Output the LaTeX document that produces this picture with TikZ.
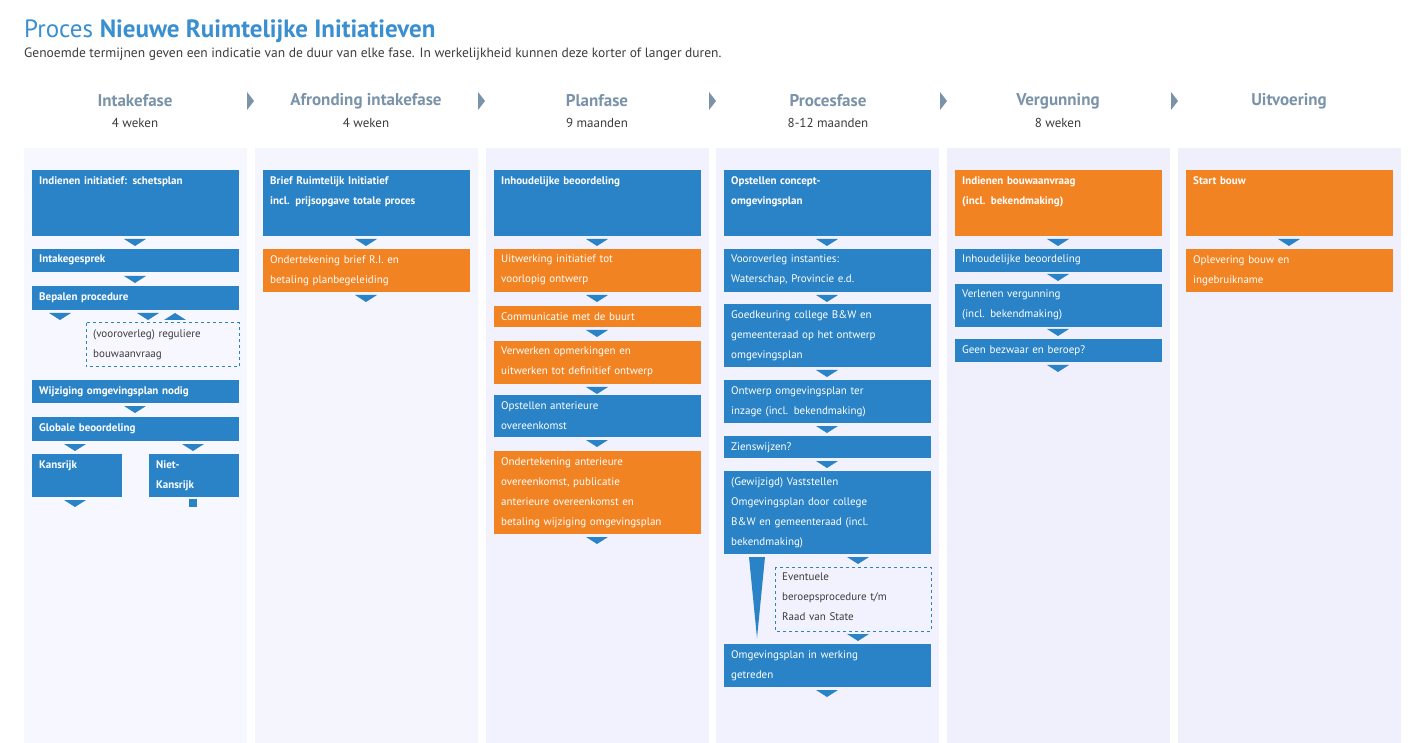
\documentclass[tikz,border=0pt]{standalone}
\usepackage{fontspec}
\setmainfont{PT Sans}
\definecolor{riblue}{HTML}{2A83C6}
\definecolor{riorange}{HTML}{F28322}
\definecolor{rihead}{HTML}{7A93A9}
\definecolor{ritext}{HTML}{3C3C3C}
\definecolor{rititle}{HTML}{3A8FD0}

\tikzset{
  txt/.style={inner xsep=7pt, inner ysep=6pt, text width=193pt, align=left,
    font=\fontsize{11}{20}\selectfont, text=white},
  bold/.style={font=\fontsize{11}{20}\selectfont\bfseries},
  dashbox/.style={draw=riblue, dashed, line width=1pt},
  colhead/.style={font=\fontsize{17}{20}\selectfont\bfseries, text=rihead},
  colsub/.style={font=\fontsize{13}{15}\selectfont, text=ritext}
}
% filled block with text at the top
\newcommand\blok[6]{%
  \fill[#5] (#2,#3) rectangle ++(207,#4);
  \node[txt, anchor=north west, #6] (#1) at (#2,#3) {\strut};}
\newcommand\blokt[7]{%
  \fill[#5] (#2,#3) rectangle ++(#6,#4);
  \node[txt, anchor=north west, text width=#6pt-14pt] (#1) at (#2,#3) {#7};}
% small arrow head pointing down / up
\newcommand\trid[2]{\fill[riblue] (#1-11,#2) -- (#1+11,#2) -- (#1,#2+7) -- cycle;}
\newcommand\triu[2]{\fill[riblue] (#1-11,#2+7) -- (#1+11,#2+7) -- (#1,#2) -- cycle;}

\begin{document}
\begin{tikzpicture}[x=1pt, y=-1pt]
  \useasboundingbox (0,0) rectangle (1425,743);
  \fill[white] (0,0) rectangle (1425,743);

  % title
  \node[anchor=base west, inner sep=0, font=\fontsize{25}{28}\selectfont, text=rititle]
    (title) at (24,38) {Proces \textbf{Nieuwe Ruimtelijke Initiatieven}};
  \node[anchor=base west, inner sep=0, font=\fontsize{13.5}{16}\selectfont, text=ritext]
    (subtitle) at (24,58) {Genoemde termijnen geven een indicatie van de duur van elke fase. In werkelijkheid kunnen deze korter of langer duren.};

  % column backgrounds
  \fill[black!3!blue!3!white] (24,148) rectangle (247,743);
  \fill[black!6!blue!4!white] (255,148) rectangle (478,743);
  \fill[black!8!blue!5!white] (486,148) rectangle (709,743);
  \fill[black!10!blue!5!white] (716,148) rectangle (939,743);
  \fill[black!13!blue!6!white] (947,148) rectangle (1170,743);
  \fill[black!13!blue!6!white] (1178,148) rectangle (1401,743);

  % headers
  \node[colhead] (h1) at (135,101) {Intakefase};
  \node[colsub] (s1) at (135,123) {4 weken};
  \node[colhead] (h2) at (366,101) {Afronding intakefase};
  \node[colsub] (s2) at (366,123) {4 weken};
  \node[colhead] (h3) at (597,101) {Planfase};
  \node[colsub] (s3) at (597,123) {9 maanden};
  \node[colhead] (h4) at (828,101) {Procesfase};
  \node[colsub] (s4) at (828,123) {8-12 maanden};
  \node[colhead] (h5) at (1058,101) {Vergunning};
  \node[colsub] (s5) at (1058,123) {8 weken};
  \node[colhead] (h6) at (1289,101) {Uitvoering};
  \foreach \x in {250,481,712,943,1174}
    \fill[rihead] (\x-3,92) -- (\x+4,101) -- (\x-3,110) -- cycle;

  % Intakefase
  \blokt{a1}{32}{170}{66}{riblue}{207}{\bfseries Indienen initiatief: schetsplan}
  \trid{135}{239}
  \blokt{a2}{32}{249}{23}{riblue}{207}{\bfseries Intakegesprek}
  \trid{135}{276}
  \blokt{a3}{32}{286}{24}{riblue}{207}{\bfseries Bepalen procedure}
  \trid{60}{313}
  \trid{148}{313}
  \triu{175}{313}
  \draw[dashbox] (86,323) rectangle (239,367);
  \node[txt, anchor=north west, text width=139pt, text=ritext] (a4) at (86,323)
    {(vooroverleg) reguliere\\bouwaanvraag};
  \blokt{a5}{32}{380}{23}{riblue}{207}{\bfseries Wijziging omgevingsplan nodig}
  \trid{135}{406}
  \blokt{a6}{32}{417}{24}{riblue}{207}{\bfseries Globale beoordeling}
  \trid{75}{444}
  \trid{193}{444}
  \blokt{a7}{32}{454}{43}{riblue}{90}{\bfseries Kansrijk}
  \blokt{a8}{149}{454}{43}{riblue}{90}{\bfseries Niet-\\Kansrijk}
  \trid{75}{500}
  \fill[riblue] (189,499) rectangle (197,507);

  % Afronding intakefase
  \blokt{b1}{263}{170}{66}{riblue}{207}{\bfseries Brief Ruimtelijk Initiatief\\\bfseries incl. prijsopgave totale proces}
  \trid{366}{239}
  \blokt{b2}{263}{249}{43}{riorange}{207}{Ondertekening brief R.I. en\\betaling planbegeleiding}
  \trid{366}{295}

  % Planfase
  \blokt{c1}{494}{170}{66}{riblue}{207}{\bfseries Inhoudelijke beoordeling}
  \trid{597}{239}
  \blokt{c2}{494}{249}{43}{riorange}{207}{Uitwerking initiatief tot\\voorlopig ontwerp}
  \trid{597}{295}
  \blokt{c3}{494}{306}{21}{riorange}{207}{Communicatie met de buurt}
  \trid{597}{330}
  \blokt{c4}{494}{341}{43}{riorange}{207}{Verwerken opmerkingen en\\uitwerken tot definitief ontwerp}
  \trid{597}{387}
  \blokt{c5}{494}{395}{42}{riblue}{207}{Opstellen anterieure\\overeenkomst}
  \trid{597}{440}
  \blokt{c6}{494}{451}{83}{riorange}{207}{Ondertekening anterieure\\overeenkomst, publicatie\\anterieure overeenkomst en\\betaling wijziging omgevingsplan}
  \trid{597}{537}

  % Procesfase
  \blokt{d1}{724}{170}{66}{riblue}{207}{\bfseries Opstellen concept-\\\bfseries omgevingsplan}
  \trid{827}{239}
  \blokt{d2}{724}{249}{43}{riblue}{207}{Vooroverleg instanties:\\Waterschap, Provincie e.d.}
  \trid{827}{295}
  \blokt{d3}{724}{304}{63}{riblue}{207}{Goedkeuring college B\&W en\\gemeenteraad op het ontwerp\\omgevingsplan}
  \trid{827}{370}
  \blokt{d4}{724}{380}{43}{riblue}{207}{Ontwerp omgevingsplan ter\\inzage (incl. bekendmaking)}
  \trid{827}{426}
  \blokt{d5}{724}{436}{22}{riblue}{207}{Zienswijzen?}
  \trid{827}{461}
  \blokt{d6}{724}{471}{83}{riblue}{207}{(Gewijzigd) Vaststellen\\Omgevingsplan door college\\B\&W en gemeenteraad (incl.\\bekendmaking)}
  \trid{858}{557}
  \fill[riblue] (749,557) -- (765,557) -- (757,638) -- cycle;
  \draw[dashbox] (775,567) rectangle (931,631);
  \node[txt, anchor=north west, text width=142pt, text=ritext] (d7) at (775,567)
    {Eventuele\\beroepsprocedure t/m\\Raad van State};
  \trid{858}{634}
  \blokt{d8}{724}{644}{43}{riblue}{207}{Omgevingsplan in werking\\getreden}
  \trid{827}{690}

  % Vergunning
  \blokt{e1}{955}{170}{66}{riorange}{207}{\bfseries Indienen bouwaanvraag\\\bfseries (incl. bekendmaking)}
  \trid{1058}{239}
  \blokt{e2}{955}{249}{23}{riblue}{207}{Inhoudelijke beoordeling}
  \trid{1058}{274}
  \blokt{e3}{955}{284}{43}{riblue}{207}{Verlenen vergunning\\(incl. bekendmaking)}
  \trid{1058}{329}
  \blokt{e4}{955}{339}{23}{riblue}{207}{Geen bezwaar en beroep?}
  \trid{1058}{365}

  % Uitvoering
  \blokt{f1}{1186}{170}{66}{riorange}{207}{\bfseries Start bouw}
  \trid{1289}{239}
  \blokt{f2}{1186}{249}{43}{riorange}{207}{Oplevering bouw en\\ingebruikname}
\end{tikzpicture}
\end{document}
